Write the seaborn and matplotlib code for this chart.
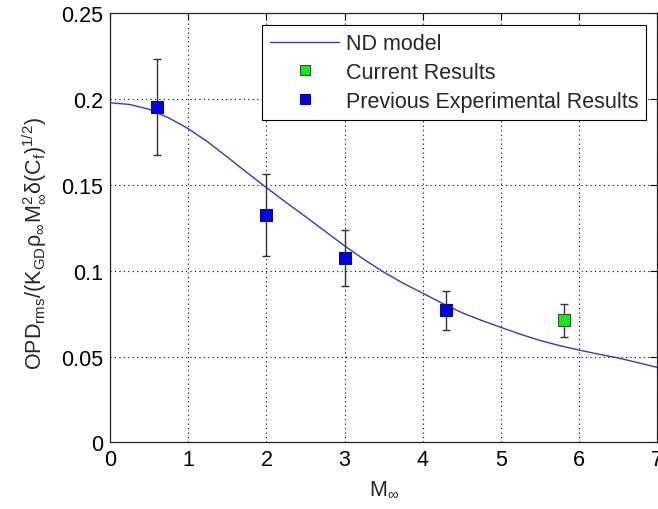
import matplotlib
matplotlib.use("Agg")
import matplotlib.pyplot as plt
from matplotlib.lines import Line2D
import seaborn as sns
import pandas as pd

# ND model curve
model_mach = [0.0, 0.25, 0.5, 0.75, 1.0, 1.25, 1.5, 1.75, 2.0, 2.25, 2.5, 2.75,
              3.0, 3.25, 3.5, 3.75, 4.0, 4.25, 4.5, 4.75, 5.0, 5.25, 5.5, 5.75,
              6.0, 6.25, 6.5, 6.75, 7.0]
model_opd = [0.1978, 0.1968, 0.1940, 0.1890, 0.1827, 0.1750, 0.1662, 0.1572,
             0.1484, 0.1398, 0.1315, 0.1230, 0.1145, 0.1065, 0.0992, 0.0927,
             0.0869, 0.0810, 0.0756, 0.0711, 0.0670, 0.0630, 0.0594, 0.0564,
             0.0538, 0.0514, 0.0492, 0.0465, 0.0437]

# Current results
cur_mach = [5.8]
cur_opd = [0.0712]
cur_lo = [0.0612]
cur_hi = [0.0805]

# Previous experimental results
prev_mach = [0.6, 2.0, 3.0, 4.3]
prev_opd = [0.1952, 0.1327, 0.1073, 0.0772]
prev_lo = [0.1676, 0.1084, 0.0914, 0.0654]
prev_hi = [0.2230, 0.1565, 0.1237, 0.0883]

x_ticks = [0, 1, 2, 3, 4, 5, 6, 7]
y_ticks = [0, 0.05, 0.1, 0.15, 0.2, 0.25]
y_tick_labels = ["0", "0.05", "0.1", "0.15", "0.2", "0.25"]

sns.set_theme(style="white")
plt.rcParams["font.family"] = ["Liberation Sans", "DejaVu Sans"]
plt.rcParams["mathtext.fontset"] = "custom"
plt.rcParams["mathtext.rm"] = "Liberation Sans"
plt.rcParams["mathtext.it"] = "Liberation Sans"
plt.rcParams["mathtext.default"] = "regular"

fig = plt.figure(figsize=(6.58, 5.10), dpi=100)
ax = fig.add_axes([0.1672, 0.1304, 0.8318, 0.842])

model_df = pd.DataFrame({"M": model_mach, "OPD": model_opd})
cur_df = pd.DataFrame({"M": cur_mach, "OPD": cur_opd})
prev_df = pd.DataFrame({"M": prev_mach, "OPD": prev_opd})

line_color = "#3838b8"
blue = "#0000f0"
green = "#10ee10"
fs = 15.5

sns.lineplot(data=model_df, x="M", y="OPD", ax=ax, color=line_color,
             linewidth=1.0, zorder=3, legend=False)

# error bars
def bars(xs, ys, lo, hi):
    yerr = [[y - l for y, l in zip(ys, lo)], [h - y for y, h in zip(ys, hi)]]
    ax.errorbar(xs, ys, yerr=yerr, fmt="none", ecolor="#333333",
                elinewidth=1.0, capsize=2.7, capthick=1.0, zorder=4)

bars(prev_mach, prev_opd, prev_lo, prev_hi)
bars(cur_mach, cur_opd, cur_lo, cur_hi)

sns.scatterplot(data=prev_df, x="M", y="OPD", ax=ax, marker="s", s=75,
                color=blue, edgecolor="#101060", linewidth=0.8, zorder=5,
                legend=False)
sns.scatterplot(data=cur_df, x="M", y="OPD", ax=ax, marker="s", s=75,
                color=green, edgecolor="#444444", linewidth=0.8, zorder=5,
                legend=False)

ax.set_xlim(0, 7)
ax.set_ylim(0, 0.25)
ax.set_xticks(x_ticks)
ax.set_xticklabels([str(t) for t in x_ticks])
ax.set_yticks(y_ticks)
ax.set_yticklabels(y_tick_labels)
ax.tick_params(direction="in", length=5, width=0.8, top=True, right=True,
               labelsize=fs, colors="#000000", pad=5)
ax.grid(True, linestyle=(0, (1, 3)), color="#000000", linewidth=0.8)
for sp in ax.spines.values():
    sp.set_color("#262626")
    sp.set_linewidth(0.9)

ax.set_xlabel(r"M$_\infty$", fontsize=fs, labelpad=6)
ax.set_ylabel(r"OPD$_{rms}$/(K$_{GD}$$\rho_\infty$M$_\infty^2$$\delta$(C$_f$)$^{1/2}$)",
              fontsize=fs)
ax.yaxis.set_label_coords(-0.114, 0.465)

handles = [
    Line2D([], [], color=line_color, linewidth=1.0),
    Line2D([], [], linestyle="none", marker="s", markersize=7.5,
           markerfacecolor=green, markeredgecolor="#444444", markeredgewidth=0.8),
    Line2D([], [], linestyle="none", marker="s", markersize=7.5,
           markerfacecolor=blue, markeredgecolor="#101060", markeredgewidth=0.8),
]
labels = ["ND model", "Current Results", "Previous Experimental Results"]
leg = ax.legend(handles, labels, loc="upper right", bbox_to_anchor=(0.98, 0.972),
                borderaxespad=0, fontsize=fs, frameon=True, fancybox=False,
                handlelength=3.2, handletextpad=0.3, labelspacing=0.36,
                borderpad=0.38)
leg.get_frame().set_edgecolor("#000000")
leg.get_frame().set_linewidth(0.8)
leg.get_frame().set_alpha(1.0)

fig.savefig("out.png", dpi=100)
